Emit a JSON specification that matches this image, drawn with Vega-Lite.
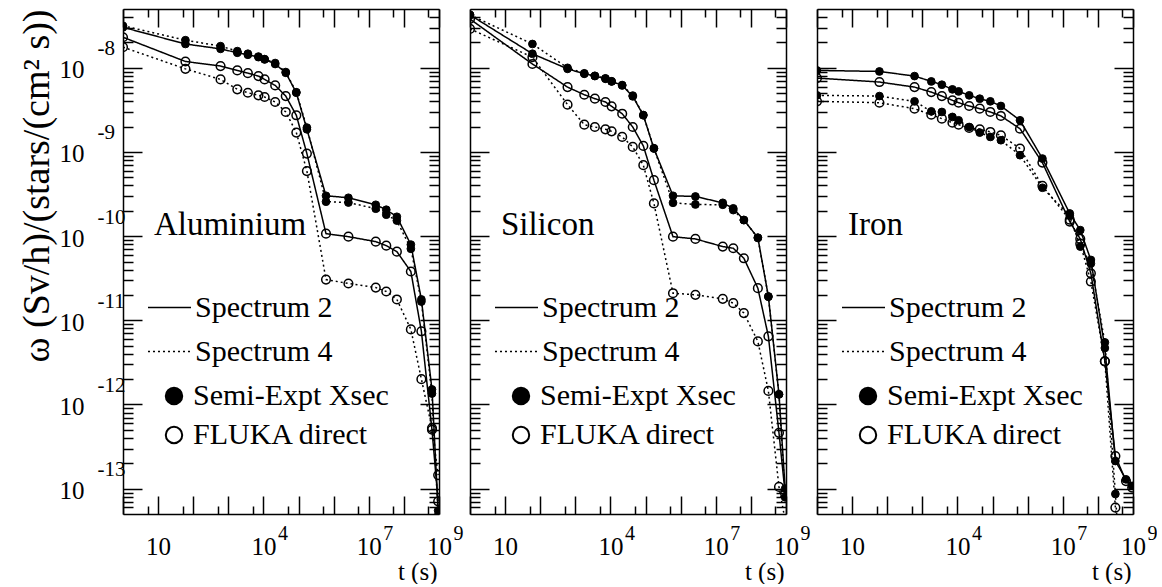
{
"$schema":"https://vega.github.io/schema/vega-lite/v6.json",
"background":"white",
"padding":{"left":17,"top":8,"right":0,"bottom":0},
"config":{"font":"Liberation Serif","view":{"stroke":null},
"axis":{"grid":false,"domainColor":"black","domainWidth":1.5,"tickColor":"black","tickWidth":1.5,"labelColor":"black","titleColor":"black","labelFont":"Liberation Serif","titleFont":"Liberation Serif","titleFontWeight":"normal","labelFlush":false,"labelOverlap":false},
"legend":{"labelFont":"Liberation Serif","labelColor":"black","labelFontSize":30,"padding":0,"title":null,"labelLimit":0,"symbolOpacity":1}},
"data":{"values":[
{"m":"Aluminium","s":"Spectrum 2","k":"Semi-Expt Xsec","t":1,"v":3.03e-8},
{"m":"Aluminium","s":"Spectrum 2","k":"Semi-Expt Xsec","t":60,"v":1.92e-8},
{"m":"Aluminium","s":"Spectrum 2","k":"Semi-Expt Xsec","t":600,"v":1.68e-8},
{"m":"Aluminium","s":"Spectrum 2","k":"Semi-Expt Xsec","t":1800,"v":1.51e-8},
{"m":"Aluminium","s":"Spectrum 2","k":"Semi-Expt Xsec","t":3600,"v":1.43e-8},
{"m":"Aluminium","s":"Spectrum 2","k":"Semi-Expt Xsec","t":7200,"v":1.34e-8},
{"m":"Aluminium","s":"Spectrum 2","k":"Semi-Expt Xsec","t":10800,"v":1.26e-8},
{"m":"Aluminium","s":"Spectrum 2","k":"Semi-Expt Xsec","t":21600,"v":1.11e-8},
{"m":"Aluminium","s":"Spectrum 2","k":"Semi-Expt Xsec","t":43200,"v":8.73e-9},
{"m":"Aluminium","s":"Spectrum 2","k":"Semi-Expt Xsec","t":86400,"v":5.06e-9},
{"m":"Aluminium","s":"Spectrum 2","k":"Semi-Expt Xsec","t":172800,"v":1.86e-9},
{"m":"Aluminium","s":"Spectrum 2","k":"Semi-Expt Xsec","t":604800,"v":3.02e-10},
{"m":"Aluminium","s":"Spectrum 2","k":"Semi-Expt Xsec","t":2630000,"v":2.86e-10},
{"m":"Aluminium","s":"Spectrum 2","k":"Semi-Expt Xsec","t":15800000,"v":2.36e-10},
{"m":"Aluminium","s":"Spectrum 2","k":"Semi-Expt Xsec","t":31500000,"v":2.06e-10},
{"m":"Aluminium","s":"Spectrum 2","k":"Semi-Expt Xsec","t":63100000,"v":1.70e-10},
{"m":"Aluminium","s":"Spectrum 2","k":"Semi-Expt Xsec","t":158000000,"v":7.94e-11},
{"m":"Aluminium","s":"Spectrum 2","k":"Semi-Expt Xsec","t":315000000,"v":1.77e-11},
{"m":"Aluminium","s":"Spectrum 2","k":"Semi-Expt Xsec","t":631000000,"v":1.51e-12},
{"m":"Aluminium","s":"Spectrum 2","k":"Semi-Expt Xsec","t":946000000,"v":5.5e-14},
{"m":"Aluminium","s":"Spectrum 4","k":"Semi-Expt Xsec","t":1,"v":3.16e-8},
{"m":"Aluminium","s":"Spectrum 4","k":"Semi-Expt Xsec","t":60,"v":2.13e-8},
{"m":"Aluminium","s":"Spectrum 4","k":"Semi-Expt Xsec","t":600,"v":1.81e-8},
{"m":"Aluminium","s":"Spectrum 4","k":"Semi-Expt Xsec","t":1800,"v":1.58e-8},
{"m":"Aluminium","s":"Spectrum 4","k":"Semi-Expt Xsec","t":3600,"v":1.47e-8},
{"m":"Aluminium","s":"Spectrum 4","k":"Semi-Expt Xsec","t":7200,"v":1.36e-8},
{"m":"Aluminium","s":"Spectrum 4","k":"Semi-Expt Xsec","t":10800,"v":1.27e-8},
{"m":"Aluminium","s":"Spectrum 4","k":"Semi-Expt Xsec","t":21600,"v":1.14e-8},
{"m":"Aluminium","s":"Spectrum 4","k":"Semi-Expt Xsec","t":43200,"v":8.91e-9},
{"m":"Aluminium","s":"Spectrum 4","k":"Semi-Expt Xsec","t":86400,"v":5.13e-9},
{"m":"Aluminium","s":"Spectrum 4","k":"Semi-Expt Xsec","t":172800,"v":1.95e-9},
{"m":"Aluminium","s":"Spectrum 4","k":"Semi-Expt Xsec","t":604800,"v":2.57e-10},
{"m":"Aluminium","s":"Spectrum 4","k":"Semi-Expt Xsec","t":2630000,"v":2.51e-10},
{"m":"Aluminium","s":"Spectrum 4","k":"Semi-Expt Xsec","t":15800000,"v":2.12e-10},
{"m":"Aluminium","s":"Spectrum 4","k":"Semi-Expt Xsec","t":31500000,"v":1.80e-10},
{"m":"Aluminium","s":"Spectrum 4","k":"Semi-Expt Xsec","t":63100000,"v":1.53e-10},
{"m":"Aluminium","s":"Spectrum 4","k":"Semi-Expt Xsec","t":158000000,"v":7.08e-11},
{"m":"Aluminium","s":"Spectrum 4","k":"Semi-Expt Xsec","t":315000000,"v":1.67e-11},
{"m":"Aluminium","s":"Spectrum 4","k":"Semi-Expt Xsec","t":631000000,"v":1.35e-12},
{"m":"Aluminium","s":"Spectrum 4","k":"Semi-Expt Xsec","t":946000000,"v":4.8e-14},
{"m":"Aluminium","s":"Spectrum 2","k":"FLUKA direct","t":1,"v":2.31e-8},
{"m":"Aluminium","s":"Spectrum 2","k":"FLUKA direct","t":60,"v":1.19e-8},
{"m":"Aluminium","s":"Spectrum 2","k":"FLUKA direct","t":600,"v":1.05e-8},
{"m":"Aluminium","s":"Spectrum 2","k":"FLUKA direct","t":1800,"v":9.31e-9},
{"m":"Aluminium","s":"Spectrum 2","k":"FLUKA direct","t":3600,"v":8.65e-9},
{"m":"Aluminium","s":"Spectrum 2","k":"FLUKA direct","t":7200,"v":7.98e-9},
{"m":"Aluminium","s":"Spectrum 2","k":"FLUKA direct","t":10800,"v":7.29e-9},
{"m":"Aluminium","s":"Spectrum 2","k":"FLUKA direct","t":21600,"v":6.18e-9},
{"m":"Aluminium","s":"Spectrum 2","k":"FLUKA direct","t":43200,"v":4.62e-9},
{"m":"Aluminium","s":"Spectrum 2","k":"FLUKA direct","t":86400,"v":2.73e-9},
{"m":"Aluminium","s":"Spectrum 2","k":"FLUKA direct","t":172800,"v":9.57e-10},
{"m":"Aluminium","s":"Spectrum 2","k":"FLUKA direct","t":604800,"v":1.07e-10},
{"m":"Aluminium","s":"Spectrum 2","k":"FLUKA direct","t":2630000,"v":9.86e-11},
{"m":"Aluminium","s":"Spectrum 2","k":"FLUKA direct","t":15800000,"v":8.61e-11},
{"m":"Aluminium","s":"Spectrum 2","k":"FLUKA direct","t":31500000,"v":7.71e-11},
{"m":"Aluminium","s":"Spectrum 2","k":"FLUKA direct","t":63100000,"v":6.55e-11},
{"m":"Aluminium","s":"Spectrum 2","k":"FLUKA direct","t":158000000,"v":3.80e-11},
{"m":"Aluminium","s":"Spectrum 2","k":"FLUKA direct","t":315000000,"v":7.41e-12},
{"m":"Aluminium","s":"Spectrum 2","k":"FLUKA direct","t":631000000,"v":5.01e-13},
{"m":"Aluminium","s":"Spectrum 2","k":"FLUKA direct","t":946000000,"v":7.08e-14},
{"m":"Aluminium","s":"Spectrum 4","k":"FLUKA direct","t":1,"v":1.76e-8},
{"m":"Aluminium","s":"Spectrum 4","k":"FLUKA direct","t":60,"v":9.72e-9},
{"m":"Aluminium","s":"Spectrum 4","k":"FLUKA direct","t":600,"v":7.29e-9},
{"m":"Aluminium","s":"Spectrum 4","k":"FLUKA direct","t":1800,"v":5.55e-9},
{"m":"Aluminium","s":"Spectrum 4","k":"FLUKA direct","t":3600,"v":5.06e-9},
{"m":"Aluminium","s":"Spectrum 4","k":"FLUKA direct","t":7200,"v":4.71e-9},
{"m":"Aluminium","s":"Spectrum 4","k":"FLUKA direct","t":10800,"v":4.50e-9},
{"m":"Aluminium","s":"Spectrum 4","k":"FLUKA direct","t":21600,"v":3.93e-9},
{"m":"Aluminium","s":"Spectrum 4","k":"FLUKA direct","t":43200,"v":2.99e-9},
{"m":"Aluminium","s":"Spectrum 4","k":"FLUKA direct","t":86400,"v":1.70e-9},
{"m":"Aluminium","s":"Spectrum 4","k":"FLUKA direct","t":172800,"v":5.93e-10},
{"m":"Aluminium","s":"Spectrum 4","k":"FLUKA direct","t":604800,"v":3.05e-11},
{"m":"Aluminium","s":"Spectrum 4","k":"FLUKA direct","t":2630000,"v":2.74e-11},
{"m":"Aluminium","s":"Spectrum 4","k":"FLUKA direct","t":15800000,"v":2.45e-11},
{"m":"Aluminium","s":"Spectrum 4","k":"FLUKA direct","t":31500000,"v":2.20e-11},
{"m":"Aluminium","s":"Spectrum 4","k":"FLUKA direct","t":63100000,"v":1.77e-11},
{"m":"Aluminium","s":"Spectrum 4","k":"FLUKA direct","t":158000000,"v":7.80e-12},
{"m":"Aluminium","s":"Spectrum 4","k":"FLUKA direct","t":315000000,"v":2.00e-12},
{"m":"Aluminium","s":"Spectrum 4","k":"FLUKA direct","t":631000000,"v":5.25e-13},
{"m":"Aluminium","s":"Spectrum 4","k":"FLUKA direct","t":946000000,"v":1.45e-13},
{"m":"Silicon","s":"Spectrum 2","k":"Semi-Expt Xsec","t":1,"v":4.25e-8},
{"m":"Silicon","s":"Spectrum 2","k":"Semi-Expt Xsec","t":60,"v":1.47e-8},
{"m":"Silicon","s":"Spectrum 2","k":"Semi-Expt Xsec","t":600,"v":9.72e-9},
{"m":"Silicon","s":"Spectrum 2","k":"Semi-Expt Xsec","t":1800,"v":8.49e-9},
{"m":"Silicon","s":"Spectrum 2","k":"Semi-Expt Xsec","t":3600,"v":7.98e-9},
{"m":"Silicon","s":"Spectrum 2","k":"Semi-Expt Xsec","t":7200,"v":7.41e-9},
{"m":"Silicon","s":"Spectrum 2","k":"Semi-Expt Xsec","t":10800,"v":6.90e-9},
{"m":"Silicon","s":"Spectrum 2","k":"Semi-Expt Xsec","t":21600,"v":6.18e-9},
{"m":"Silicon","s":"Spectrum 2","k":"Semi-Expt Xsec","t":43200,"v":4.58e-9},
{"m":"Silicon","s":"Spectrum 2","k":"Semi-Expt Xsec","t":86400,"v":2.73e-9},
{"m":"Silicon","s":"Spectrum 2","k":"Semi-Expt Xsec","t":172800,"v":1.10e-9},
{"m":"Silicon","s":"Spectrum 2","k":"Semi-Expt Xsec","t":604800,"v":3.02e-10},
{"m":"Silicon","s":"Spectrum 2","k":"Semi-Expt Xsec","t":2630000,"v":2.96e-10},
{"m":"Silicon","s":"Spectrum 2","k":"Semi-Expt Xsec","t":15800000,"v":2.49e-10},
{"m":"Silicon","s":"Spectrum 2","k":"Semi-Expt Xsec","t":31500000,"v":2.14e-10},
{"m":"Silicon","s":"Spectrum 2","k":"Semi-Expt Xsec","t":63100000,"v":1.56e-10},
{"m":"Silicon","s":"Spectrum 2","k":"Semi-Expt Xsec","t":158000000,"v":9.59e-11},
{"m":"Silicon","s":"Spectrum 2","k":"Semi-Expt Xsec","t":315000000,"v":1.92e-11},
{"m":"Silicon","s":"Spectrum 2","k":"Semi-Expt Xsec","t":631000000,"v":1.32e-12},
{"m":"Silicon","s":"Spectrum 2","k":"Semi-Expt Xsec","t":946000000,"v":1.0e-13},
{"m":"Silicon","s":"Spectrum 4","k":"Semi-Expt Xsec","t":1,"v":4.25e-8},
{"m":"Silicon","s":"Spectrum 4","k":"Semi-Expt Xsec","t":60,"v":1.92e-8},
{"m":"Silicon","s":"Spectrum 4","k":"Semi-Expt Xsec","t":600,"v":1.0e-8},
{"m":"Silicon","s":"Spectrum 4","k":"Semi-Expt Xsec","t":1800,"v":8.61e-9},
{"m":"Silicon","s":"Spectrum 4","k":"Semi-Expt Xsec","t":3600,"v":8.04e-9},
{"m":"Silicon","s":"Spectrum 4","k":"Semi-Expt Xsec","t":7200,"v":7.5e-9},
{"m":"Silicon","s":"Spectrum 4","k":"Semi-Expt Xsec","t":10800,"v":6.92e-9},
{"m":"Silicon","s":"Spectrum 4","k":"Semi-Expt Xsec","t":21600,"v":6.24e-9},
{"m":"Silicon","s":"Spectrum 4","k":"Semi-Expt Xsec","t":43200,"v":4.68e-9},
{"m":"Silicon","s":"Spectrum 4","k":"Semi-Expt Xsec","t":86400,"v":2.75e-9},
{"m":"Silicon","s":"Spectrum 4","k":"Semi-Expt Xsec","t":172800,"v":1.11e-9},
{"m":"Silicon","s":"Spectrum 4","k":"Semi-Expt Xsec","t":604800,"v":2.49e-10},
{"m":"Silicon","s":"Spectrum 4","k":"Semi-Expt Xsec","t":2630000,"v":2.38e-10},
{"m":"Silicon","s":"Spectrum 4","k":"Semi-Expt Xsec","t":15800000,"v":2.36e-10},
{"m":"Silicon","s":"Spectrum 4","k":"Semi-Expt Xsec","t":31500000,"v":2.04e-10},
{"m":"Silicon","s":"Spectrum 4","k":"Semi-Expt Xsec","t":63100000,"v":1.55e-10},
{"m":"Silicon","s":"Spectrum 4","k":"Semi-Expt Xsec","t":158000000,"v":9.55e-11},
{"m":"Silicon","s":"Spectrum 4","k":"Semi-Expt Xsec","t":315000000,"v":1.91e-11},
{"m":"Silicon","s":"Spectrum 4","k":"Semi-Expt Xsec","t":631000000,"v":1.32e-12},
{"m":"Silicon","s":"Spectrum 4","k":"Semi-Expt Xsec","t":946000000,"v":7.9e-14},
{"m":"Silicon","s":"Spectrum 2","k":"FLUKA direct","t":1,"v":3.80e-8},
{"m":"Silicon","s":"Spectrum 2","k":"FLUKA direct","t":60,"v":1.11e-8},
{"m":"Silicon","s":"Spectrum 2","k":"FLUKA direct","t":600,"v":5.90e-9},
{"m":"Silicon","s":"Spectrum 2","k":"FLUKA direct","t":1800,"v":4.79e-9},
{"m":"Silicon","s":"Spectrum 2","k":"FLUKA direct","t":3600,"v":4.30e-9},
{"m":"Silicon","s":"Spectrum 2","k":"FLUKA direct","t":7200,"v":3.93e-9},
{"m":"Silicon","s":"Spectrum 2","k":"FLUKA direct","t":10800,"v":3.49e-9},
{"m":"Silicon","s":"Spectrum 2","k":"FLUKA direct","t":21600,"v":2.85e-9},
{"m":"Silicon","s":"Spectrum 2","k":"FLUKA direct","t":43200,"v":1.98e-9},
{"m":"Silicon","s":"Spectrum 2","k":"FLUKA direct","t":86400,"v":1.18e-9},
{"m":"Silicon","s":"Spectrum 2","k":"FLUKA direct","t":172800,"v":4.63e-10},
{"m":"Silicon","s":"Spectrum 2","k":"FLUKA direct","t":604800,"v":9.86e-11},
{"m":"Silicon","s":"Spectrum 2","k":"FLUKA direct","t":2630000,"v":9.27e-11},
{"m":"Silicon","s":"Spectrum 2","k":"FLUKA direct","t":15800000,"v":7.52e-11},
{"m":"Silicon","s":"Spectrum 2","k":"FLUKA direct","t":31500000,"v":7.18e-11},
{"m":"Silicon","s":"Spectrum 2","k":"FLUKA direct","t":63100000,"v":5.46e-11},
{"m":"Silicon","s":"Spectrum 2","k":"FLUKA direct","t":158000000,"v":2.41e-11},
{"m":"Silicon","s":"Spectrum 2","k":"FLUKA direct","t":315000000,"v":6.46e-12},
{"m":"Silicon","s":"Spectrum 2","k":"FLUKA direct","t":631000000,"v":4.61e-13},
{"m":"Silicon","s":"Spectrum 2","k":"FLUKA direct","t":946000000,"v":8.7e-14},
{"m":"Silicon","s":"Spectrum 4","k":"FLUKA direct","t":1,"v":2.90e-8},
{"m":"Silicon","s":"Spectrum 4","k":"FLUKA direct","t":60,"v":1.34e-8},
{"m":"Silicon","s":"Spectrum 4","k":"FLUKA direct","t":600,"v":3.65e-9},
{"m":"Silicon","s":"Spectrum 4","k":"FLUKA direct","t":1800,"v":2.11e-9},
{"m":"Silicon","s":"Spectrum 4","k":"FLUKA direct","t":3600,"v":1.98e-9},
{"m":"Silicon","s":"Spectrum 4","k":"FLUKA direct","t":7200,"v":1.86e-9},
{"m":"Silicon","s":"Spectrum 4","k":"FLUKA direct","t":10800,"v":1.76e-9},
{"m":"Silicon","s":"Spectrum 4","k":"FLUKA direct","t":21600,"v":1.51e-9},
{"m":"Silicon","s":"Spectrum 4","k":"FLUKA direct","t":43200,"v":1.15e-9},
{"m":"Silicon","s":"Spectrum 4","k":"FLUKA direct","t":86400,"v":6.98e-10},
{"m":"Silicon","s":"Spectrum 4","k":"FLUKA direct","t":172800,"v":2.45e-10},
{"m":"Silicon","s":"Spectrum 4","k":"FLUKA direct","t":604800,"v":2.10e-11},
{"m":"Silicon","s":"Spectrum 4","k":"FLUKA direct","t":2630000,"v":2.01e-11},
{"m":"Silicon","s":"Spectrum 4","k":"FLUKA direct","t":15800000,"v":1.80e-11},
{"m":"Silicon","s":"Spectrum 4","k":"FLUKA direct","t":31500000,"v":1.60e-11},
{"m":"Silicon","s":"Spectrum 4","k":"FLUKA direct","t":63100000,"v":1.22e-11},
{"m":"Silicon","s":"Spectrum 4","k":"FLUKA direct","t":158000000,"v":5.62e-12},
{"m":"Silicon","s":"Spectrum 4","k":"FLUKA direct","t":315000000,"v":1.45e-12},
{"m":"Silicon","s":"Spectrum 4","k":"FLUKA direct","t":631000000,"v":1.05e-13},
{"m":"Silicon","s":"Spectrum 4","k":"FLUKA direct","t":946000000,"v":4.2e-14},
{"m":"Iron","s":"Spectrum 2","k":"Semi-Expt Xsec","t":1,"v":9.31e-9},
{"m":"Iron","s":"Spectrum 2","k":"Semi-Expt Xsec","t":60,"v":9.06e-9},
{"m":"Iron","s":"Spectrum 2","k":"Semi-Expt Xsec","t":600,"v":7.98e-9},
{"m":"Iron","s":"Spectrum 2","k":"Semi-Expt Xsec","t":1800,"v":6.90e-9},
{"m":"Iron","s":"Spectrum 2","k":"Semi-Expt Xsec","t":3600,"v":6.30e-9},
{"m":"Iron","s":"Spectrum 2","k":"Semi-Expt Xsec","t":7200,"v":5.55e-9},
{"m":"Iron","s":"Spectrum 2","k":"Semi-Expt Xsec","t":10800,"v":5.25e-9},
{"m":"Iron","s":"Spectrum 2","k":"Semi-Expt Xsec","t":21600,"v":4.71e-9},
{"m":"Iron","s":"Spectrum 2","k":"Semi-Expt Xsec","t":43200,"v":4.30e-9},
{"m":"Iron","s":"Spectrum 2","k":"Semi-Expt Xsec","t":86400,"v":4.0e-9},
{"m":"Iron","s":"Spectrum 2","k":"Semi-Expt Xsec","t":172800,"v":3.52e-9},
{"m":"Iron","s":"Spectrum 2","k":"Semi-Expt Xsec","t":604800,"v":2.38e-9},
{"m":"Iron","s":"Spectrum 2","k":"Semi-Expt Xsec","t":2630000,"v":8.36e-10},
{"m":"Iron","s":"Spectrum 2","k":"Semi-Expt Xsec","t":15800000,"v":1.86e-10},
{"m":"Iron","s":"Spectrum 2","k":"Semi-Expt Xsec","t":31500000,"v":1.18e-10},
{"m":"Iron","s":"Spectrum 2","k":"Semi-Expt Xsec","t":63100000,"v":5.22e-11},
{"m":"Iron","s":"Spectrum 2","k":"Semi-Expt Xsec","t":158000000,"v":4.69e-12},
{"m":"Iron","s":"Spectrum 2","k":"Semi-Expt Xsec","t":315000000,"v":2.13e-13},
{"m":"Iron","s":"Spectrum 2","k":"Semi-Expt Xsec","t":631000000,"v":1.29e-13},
{"m":"Iron","s":"Spectrum 2","k":"Semi-Expt Xsec","t":946000000,"v":1.08e-13},
{"m":"Iron","s":"Spectrum 2","k":"FLUKA direct","t":1,"v":7.55e-9},
{"m":"Iron","s":"Spectrum 2","k":"FLUKA direct","t":60,"v":6.78e-9},
{"m":"Iron","s":"Spectrum 2","k":"FLUKA direct","t":600,"v":5.90e-9},
{"m":"Iron","s":"Spectrum 2","k":"FLUKA direct","t":1800,"v":5.15e-9},
{"m":"Iron","s":"Spectrum 2","k":"FLUKA direct","t":3600,"v":4.62e-9},
{"m":"Iron","s":"Spectrum 2","k":"FLUKA direct","t":7200,"v":4.11e-9},
{"m":"Iron","s":"Spectrum 2","k":"FLUKA direct","t":10800,"v":3.85e-9},
{"m":"Iron","s":"Spectrum 2","k":"FLUKA direct","t":21600,"v":3.52e-9},
{"m":"Iron","s":"Spectrum 2","k":"FLUKA direct","t":43200,"v":3.27e-9},
{"m":"Iron","s":"Spectrum 2","k":"FLUKA direct","t":86400,"v":2.99e-9},
{"m":"Iron","s":"Spectrum 2","k":"FLUKA direct","t":172800,"v":2.68e-9},
{"m":"Iron","s":"Spectrum 2","k":"FLUKA direct","t":604800,"v":1.89e-9},
{"m":"Iron","s":"Spectrum 2","k":"FLUKA direct","t":2630000,"v":7.48e-10},
{"m":"Iron","s":"Spectrum 2","k":"FLUKA direct","t":15800000,"v":1.49e-10},
{"m":"Iron","s":"Spectrum 2","k":"FLUKA direct","t":31500000,"v":9.27e-11},
{"m":"Iron","s":"Spectrum 2","k":"FLUKA direct","t":63100000,"v":3.62e-11},
{"m":"Iron","s":"Spectrum 2","k":"FLUKA direct","t":158000000,"v":3.26e-12},
{"m":"Iron","s":"Spectrum 2","k":"FLUKA direct","t":315000000,"v":2.44e-13},
{"m":"Iron","s":"Spectrum 2","k":"FLUKA direct","t":631000000,"v":1.23e-13},
{"m":"Iron","s":"Spectrum 2","k":"FLUKA direct","t":946000000,"v":1.03e-13},
{"m":"Iron","s":"Spectrum 4","k":"Semi-Expt Xsec","t":1,"v":4.71e-9},
{"m":"Iron","s":"Spectrum 4","k":"Semi-Expt Xsec","t":60,"v":4.62e-9},
{"m":"Iron","s":"Spectrum 4","k":"Semi-Expt Xsec","t":600,"v":4.0e-9},
{"m":"Iron","s":"Spectrum 4","k":"Semi-Expt Xsec","t":1800,"v":3.04e-9},
{"m":"Iron","s":"Spectrum 4","k":"Semi-Expt Xsec","t":3600,"v":2.99e-9},
{"m":"Iron","s":"Spectrum 4","k":"Semi-Expt Xsec","t":7200,"v":2.61e-9},
{"m":"Iron","s":"Spectrum 4","k":"Semi-Expt Xsec","t":10800,"v":2.38e-9},
{"m":"Iron","s":"Spectrum 4","k":"Semi-Expt Xsec","t":21600,"v":1.98e-9},
{"m":"Iron","s":"Spectrum 4","k":"Semi-Expt Xsec","t":43200,"v":1.70e-9},
{"m":"Iron","s":"Spectrum 4","k":"Semi-Expt Xsec","t":86400,"v":1.51e-9},
{"m":"Iron","s":"Spectrum 4","k":"Semi-Expt Xsec","t":172800,"v":1.38e-9},
{"m":"Iron","s":"Spectrum 4","k":"Semi-Expt Xsec","t":604800,"v":9.16e-10},
{"m":"Iron","s":"Spectrum 4","k":"Semi-Expt Xsec","t":2630000,"v":3.76e-10},
{"m":"Iron","s":"Spectrum 4","k":"Semi-Expt Xsec","t":15800000,"v":1.75e-10},
{"m":"Iron","s":"Spectrum 4","k":"Semi-Expt Xsec","t":31500000,"v":7.52e-11},
{"m":"Iron","s":"Spectrum 4","k":"Semi-Expt Xsec","t":63100000,"v":4.72e-11},
{"m":"Iron","s":"Spectrum 4","k":"Semi-Expt Xsec","t":158000000,"v":5.47e-12},
{"m":"Iron","s":"Spectrum 4","k":"Semi-Expt Xsec","t":315000000,"v":8.65e-14},
{"m":"Iron","s":"Spectrum 4","k":"Semi-Expt Xsec","t":631000000,"v":1e-15},
{"m":"Iron","s":"Spectrum 4","k":"Semi-Expt Xsec","t":946000000,"v":1e-16},
{"m":"Iron","s":"Spectrum 4","k":"FLUKA direct","t":1,"v":4.0e-9},
{"m":"Iron","s":"Spectrum 4","k":"FLUKA direct","t":60,"v":3.85e-9},
{"m":"Iron","s":"Spectrum 4","k":"FLUKA direct","t":600,"v":3.27e-9},
{"m":"Iron","s":"Spectrum 4","k":"FLUKA direct","t":1800,"v":2.77e-9},
{"m":"Iron","s":"Spectrum 4","k":"FLUKA direct","t":3600,"v":2.49e-9},
{"m":"Iron","s":"Spectrum 4","k":"FLUKA direct","t":7200,"v":2.23e-9},
{"m":"Iron","s":"Spectrum 4","k":"FLUKA direct","t":10800,"v":2.11e-9},
{"m":"Iron","s":"Spectrum 4","k":"FLUKA direct","t":21600,"v":1.93e-9},
{"m":"Iron","s":"Spectrum 4","k":"FLUKA direct","t":43200,"v":1.86e-9},
{"m":"Iron","s":"Spectrum 4","k":"FLUKA direct","t":86400,"v":1.73e-9},
{"m":"Iron","s":"Spectrum 4","k":"FLUKA direct","t":172800,"v":1.58e-9},
{"m":"Iron","s":"Spectrum 4","k":"FLUKA direct","t":604800,"v":1.10e-9},
{"m":"Iron","s":"Spectrum 4","k":"FLUKA direct","t":2630000,"v":3.96e-10},
{"m":"Iron","s":"Spectrum 4","k":"FLUKA direct","t":15800000,"v":1.57e-10},
{"m":"Iron","s":"Spectrum 4","k":"FLUKA direct","t":31500000,"v":8.15e-11},
{"m":"Iron","s":"Spectrum 4","k":"FLUKA direct","t":63100000,"v":2.89e-11},
{"m":"Iron","s":"Spectrum 4","k":"FLUKA direct","t":158000000,"v":3.26e-12},
{"m":"Iron","s":"Spectrum 4","k":"FLUKA direct","t":315000000,"v":5.96e-14},
{"m":"Iron","s":"Spectrum 4","k":"FLUKA direct","t":631000000,"v":1e-15},
{"m":"Iron","s":"Spectrum 4","k":"FLUKA direct","t":946000000,"v":1e-16}
]},
"bounds":"flush",
"spacing":31,
"resolve":{"scale":{"strokeDash":"independent","fill":"independent"},"legend":{"strokeDash":"independent","fill":"independent"}},
"hconcat":[
{"width":316,"height":505,"transform":[{"filter":"datum.m === 'Aluminium'"}],
"layer":[
{"transform":[{"filter":"datum.s === 'Spectrum 2'"}],
"mark":{"type":"line","clip":true,"color":"black","strokeWidth":1.5},
"encoding":{
"x":{"field":"t","type":"quantitative","scale":{"type":"log","domain":[1,1000000000],"nice":false},"axis":{"orient":"bottom","values":[1,10,100,1000,10000,100000,1000000,10000000,100000000,1000000000],"tickSize":-18,"labelExpr":"(datum.value==10||datum.value==10000||datum.value==10000000||datum.value==1000000000)?'10':''","labelFontSize":25,"labelPadding":58,"labelBaseline":"alphabetic","labelAlign":"center","title":"t (s)","titleFontSize":25,"titleX":314,"titleY":65,"titleAlign":"right","titleBaseline":"alphabetic"}},
"y":{"field":"v","type":"quantitative","scale":{"type":"log","domain":[5e-14,5e-8],"nice":false},"axis":{"orient":"left","values":[1e-13,1e-12,1e-11,1e-10,1e-9,1e-8],"tickSize":-19,"labelExpr":"'10'","labelFontSize":25,"labelPadding":58,"labelAlign":"right","labelBaseline":"middle","labelOffset":2,"title":"ω (Sv/h)/(stars/(cm² s))","titleFontSize":38,"titleX":-75,"titleY":0,"titleAlign":"right","titleBaseline":"alphabetic","titleAngle":-90}},
"strokeDash":{"field":"s","type":"nominal","scale":{"domain":["Spectrum 2","Spectrum 4"],"range":[[1,0],[2,3]]},"legend":{"orient":"none","legendX":24,"legendY":276,"symbolType":"stroke","symbolSize":1850,"symbolStrokeWidth":1.5,"symbolStrokeColor":"black","labelOffset":3,"rowPadding":6}},
"detail":{"field":"k"}}},
{"transform":[{"filter":"datum.s === 'Spectrum 4'"}],
"mark":{"type":"line","clip":true,"color":"black","strokeWidth":1.5},
"encoding":{
"x":{"field":"t","type":"quantitative","axis":{"orient":"bottom","values":[5,50,500,5000,50000,500000,5000000,50000000,500000000],"tickSize":-8,"labels":false,"domain":false,"title":null}},
"y":{"field":"v","type":"quantitative","axis":{"orient":"left","values":[6e-14,7e-14,8e-14,9e-14,2e-13,3e-13,4e-13,5e-13,6e-13,7e-13,8e-13,9e-13,2e-12,3e-12,4e-12,5e-12,6e-12,7e-12,8e-12,9e-12,2e-11,3e-11,4e-11,5e-11,6e-11,7e-11,8e-11,9e-11,2e-10,3e-10,4e-10,5e-10,6e-10,7e-10,8e-10,9e-10,2e-9,3e-9,4e-9,5e-9,6e-9,7e-9,8e-9,9e-9,2e-8,3e-8,4e-8],"tickSize":-10,"labels":false,"domain":false,"title":null}},
"strokeDash":{"field":"s","type":"nominal"},
"detail":{"field":"k"}}},
{"transform":[{"filter":"datum.k === 'Semi-Expt Xsec'"}],
"mark":{"type":"point","shape":"circle","filled":true,"clip":true,"opacity":1,"stroke":"black","strokeWidth":1,"size":60},
"encoding":{
"x":{"field":"t","type":"quantitative","axis":{"orient":"top","values":[1,10,100,1000,10000,100000,1000000,10000000,100000000,1000000000],"tickSize":-18,"labels":false,"title":null}},
"y":{"field":"v","type":"quantitative","axis":{"orient":"right","values":[1e-13,1e-12,1e-11,1e-10,1e-9,1e-8],"tickSize":-19,"labels":false,"title":null}},
"fill":{"field":"k","type":"nominal","scale":{"domain":["Semi-Expt Xsec","FLUKA direct"],"range":["black","transparent"]},"legend":{"orient":"none","legendX":36,"legendY":372,"symbolType":"circle","symbolSize":270,"symbolStrokeWidth":2,"symbolStrokeColor":"black","labelOffset":4,"rowPadding":9}}}},
{"transform":[{"filter":"datum.k === 'FLUKA direct'"}],
"mark":{"type":"point","shape":"circle","filled":true,"clip":true,"opacity":1,"stroke":"black","strokeWidth":1.5,"size":75},
"encoding":{
"x":{"field":"t","type":"quantitative","axis":{"orient":"top","values":[5,50,500,5000,50000,500000,5000000,50000000,500000000],"tickSize":-8,"labels":false,"domain":false,"title":null}},
"y":{"field":"v","type":"quantitative","axis":{"orient":"right","values":[6e-14,7e-14,8e-14,9e-14,2e-13,3e-13,4e-13,5e-13,6e-13,7e-13,8e-13,9e-13,2e-12,3e-12,4e-12,5e-12,6e-12,7e-12,8e-12,9e-12,2e-11,3e-11,4e-11,5e-11,6e-11,7e-11,8e-11,9e-11,2e-10,3e-10,4e-10,5e-10,6e-10,7e-10,8e-10,9e-10,2e-9,3e-9,4e-9,5e-9,6e-9,7e-9,8e-9,9e-9,2e-8,3e-8,4e-8],"tickSize":-10,"labels":false,"domain":false,"title":null}},
"fill":{"field":"k","type":"nominal"}}},
{"transform":[{"filter":"datum.t === 1 && datum.s === 'Spectrum 2' && datum.k === 'Semi-Expt Xsec'"}],
"mark":{"type":"text","align":"left","baseline":"alphabetic","fontSize":33,"font":"Liberation Serif","color":"black"},
"encoding":{
"x":{"datum":7.6,"type":"quantitative","axis":{"orient":"bottom","values":[10000,10000000,1000000000],"ticks":false,"domain":false,"labelExpr":"datum.value==10000?'4':(datum.value==10000000?'7':'9')","labelFontSize":20,"labelAlign":"left","labelBaseline":"alphabetic","labelPadding":25,"labelOffset":14,"title":null}},
"y":{"datum":1.02e-10,"type":"quantitative","axis":{"orient":"left","values":[1e-13,1e-12,1e-11,1e-10,1e-9,1e-8],"ticks":false,"domain":false,"labelExpr":"'-' + round(-log(datum.value)/LN10)","labelFontSize":21,"labelAlign":"left","labelBaseline":"middle","labelPadding":26,"labelOffset":-19,"title":null}},
"text":{"field":"m"}}}
],
"resolve":{"axis":{"x":"independent","y":"independent"}}},
{"width":316,"height":505,"transform":[{"filter":"datum.m === 'Silicon'"}],
"layer":[
{"transform":[{"filter":"datum.s === 'Spectrum 2'"}],
"mark":{"type":"line","clip":true,"color":"black","strokeWidth":1.5},
"encoding":{
"x":{"field":"t","type":"quantitative","scale":{"type":"log","domain":[1,1000000000],"nice":false},"axis":{"orient":"bottom","values":[1,10,100,1000,10000,100000,1000000,10000000,100000000,1000000000],"tickSize":-18,"labelExpr":"(datum.value==10||datum.value==10000||datum.value==10000000||datum.value==1000000000)?'10':''","labelFontSize":25,"labelPadding":58,"labelBaseline":"alphabetic","labelAlign":"center","title":"t (s)","titleFontSize":25,"titleX":314,"titleY":65,"titleAlign":"right","titleBaseline":"alphabetic"}},
"y":{"field":"v","type":"quantitative","scale":{"type":"log","domain":[5e-14,5e-8],"nice":false},"axis":{"orient":"left","values":[1e-13,1e-12,1e-11,1e-10,1e-9,1e-8],"tickSize":-19,"labels":false,"title":null}},
"strokeDash":{"field":"s","type":"nominal","scale":{"domain":["Spectrum 2","Spectrum 4"],"range":[[1,0],[2,3]]},"legend":{"orient":"none","legendX":24,"legendY":276,"symbolType":"stroke","symbolSize":1850,"symbolStrokeWidth":1.5,"symbolStrokeColor":"black","labelOffset":3,"rowPadding":6}},
"detail":{"field":"k"}}},
{"transform":[{"filter":"datum.s === 'Spectrum 4'"}],
"mark":{"type":"line","clip":true,"color":"black","strokeWidth":1.5},
"encoding":{
"x":{"field":"t","type":"quantitative","axis":{"orient":"bottom","values":[5,50,500,5000,50000,500000,5000000,50000000,500000000],"tickSize":-8,"labels":false,"domain":false,"title":null}},
"y":{"field":"v","type":"quantitative","axis":{"orient":"left","values":[6e-14,7e-14,8e-14,9e-14,2e-13,3e-13,4e-13,5e-13,6e-13,7e-13,8e-13,9e-13,2e-12,3e-12,4e-12,5e-12,6e-12,7e-12,8e-12,9e-12,2e-11,3e-11,4e-11,5e-11,6e-11,7e-11,8e-11,9e-11,2e-10,3e-10,4e-10,5e-10,6e-10,7e-10,8e-10,9e-10,2e-9,3e-9,4e-9,5e-9,6e-9,7e-9,8e-9,9e-9,2e-8,3e-8,4e-8],"tickSize":-10,"labels":false,"domain":false,"title":null}},
"strokeDash":{"field":"s","type":"nominal"},
"detail":{"field":"k"}}},
{"transform":[{"filter":"datum.k === 'Semi-Expt Xsec'"}],
"mark":{"type":"point","shape":"circle","filled":true,"clip":true,"opacity":1,"stroke":"black","strokeWidth":1,"size":60},
"encoding":{
"x":{"field":"t","type":"quantitative","axis":{"orient":"top","values":[1,10,100,1000,10000,100000,1000000,10000000,100000000,1000000000],"tickSize":-18,"labels":false,"title":null}},
"y":{"field":"v","type":"quantitative","axis":{"orient":"right","values":[1e-13,1e-12,1e-11,1e-10,1e-9,1e-8],"tickSize":-19,"labels":false,"title":null}},
"fill":{"field":"k","type":"nominal","scale":{"domain":["Semi-Expt Xsec","FLUKA direct"],"range":["black","transparent"]},"legend":{"orient":"none","legendX":36,"legendY":372,"symbolType":"circle","symbolSize":270,"symbolStrokeWidth":2,"symbolStrokeColor":"black","labelOffset":4,"rowPadding":9}}}},
{"transform":[{"filter":"datum.k === 'FLUKA direct'"}],
"mark":{"type":"point","shape":"circle","filled":true,"clip":true,"opacity":1,"stroke":"black","strokeWidth":1.5,"size":75},
"encoding":{
"x":{"field":"t","type":"quantitative","axis":{"orient":"top","values":[5,50,500,5000,50000,500000,5000000,50000000,500000000],"tickSize":-8,"labels":false,"domain":false,"title":null}},
"y":{"field":"v","type":"quantitative","axis":{"orient":"right","values":[6e-14,7e-14,8e-14,9e-14,2e-13,3e-13,4e-13,5e-13,6e-13,7e-13,8e-13,9e-13,2e-12,3e-12,4e-12,5e-12,6e-12,7e-12,8e-12,9e-12,2e-11,3e-11,4e-11,5e-11,6e-11,7e-11,8e-11,9e-11,2e-10,3e-10,4e-10,5e-10,6e-10,7e-10,8e-10,9e-10,2e-9,3e-9,4e-9,5e-9,6e-9,7e-9,8e-9,9e-9,2e-8,3e-8,4e-8],"tickSize":-10,"labels":false,"domain":false,"title":null}},
"fill":{"field":"k","type":"nominal"}}},
{"transform":[{"filter":"datum.t === 1 && datum.s === 'Spectrum 2' && datum.k === 'Semi-Expt Xsec'"}],
"mark":{"type":"text","align":"left","baseline":"alphabetic","fontSize":33,"font":"Liberation Serif","color":"black"},
"encoding":{
"x":{"datum":7.6,"type":"quantitative","axis":{"orient":"bottom","values":[10000,10000000,1000000000],"ticks":false,"domain":false,"labelExpr":"datum.value==10000?'4':(datum.value==10000000?'7':'9')","labelFontSize":20,"labelAlign":"left","labelBaseline":"alphabetic","labelPadding":25,"labelOffset":14,"title":null}},
"y":{"datum":1.02e-10,"type":"quantitative","axis":null},
"text":{"field":"m"}}}
],
"resolve":{"axis":{"x":"independent","y":"independent"}}},
{"width":316,"height":505,"transform":[{"filter":"datum.m === 'Iron'"}],
"layer":[
{"transform":[{"filter":"datum.s === 'Spectrum 2'"}],
"mark":{"type":"line","clip":true,"color":"black","strokeWidth":1.5},
"encoding":{
"x":{"field":"t","type":"quantitative","scale":{"type":"log","domain":[1,1000000000],"nice":false},"axis":{"orient":"bottom","values":[1,10,100,1000,10000,100000,1000000,10000000,100000000,1000000000],"tickSize":-18,"labelExpr":"(datum.value==10||datum.value==10000||datum.value==10000000||datum.value==1000000000)?'10':''","labelFontSize":25,"labelPadding":58,"labelBaseline":"alphabetic","labelAlign":"center","title":"t (s)","titleFontSize":25,"titleX":314,"titleY":65,"titleAlign":"right","titleBaseline":"alphabetic"}},
"y":{"field":"v","type":"quantitative","scale":{"type":"log","domain":[5e-14,5e-8],"nice":false},"axis":{"orient":"left","values":[1e-13,1e-12,1e-11,1e-10,1e-9,1e-8],"tickSize":-19,"labels":false,"title":null}},
"strokeDash":{"field":"s","type":"nominal","scale":{"domain":["Spectrum 2","Spectrum 4"],"range":[[1,0],[2,3]]},"legend":{"orient":"none","legendX":24,"legendY":276,"symbolType":"stroke","symbolSize":1850,"symbolStrokeWidth":1.5,"symbolStrokeColor":"black","labelOffset":3,"rowPadding":6}},
"detail":{"field":"k"}}},
{"transform":[{"filter":"datum.s === 'Spectrum 4'"}],
"mark":{"type":"line","clip":true,"color":"black","strokeWidth":1.5},
"encoding":{
"x":{"field":"t","type":"quantitative","axis":{"orient":"bottom","values":[5,50,500,5000,50000,500000,5000000,50000000,500000000],"tickSize":-8,"labels":false,"domain":false,"title":null}},
"y":{"field":"v","type":"quantitative","axis":{"orient":"left","values":[6e-14,7e-14,8e-14,9e-14,2e-13,3e-13,4e-13,5e-13,6e-13,7e-13,8e-13,9e-13,2e-12,3e-12,4e-12,5e-12,6e-12,7e-12,8e-12,9e-12,2e-11,3e-11,4e-11,5e-11,6e-11,7e-11,8e-11,9e-11,2e-10,3e-10,4e-10,5e-10,6e-10,7e-10,8e-10,9e-10,2e-9,3e-9,4e-9,5e-9,6e-9,7e-9,8e-9,9e-9,2e-8,3e-8,4e-8],"tickSize":-10,"labels":false,"domain":false,"title":null}},
"strokeDash":{"field":"s","type":"nominal"},
"detail":{"field":"k"}}},
{"transform":[{"filter":"datum.k === 'Semi-Expt Xsec'"}],
"mark":{"type":"point","shape":"circle","filled":true,"clip":true,"opacity":1,"stroke":"black","strokeWidth":1,"size":60},
"encoding":{
"x":{"field":"t","type":"quantitative","axis":{"orient":"top","values":[1,10,100,1000,10000,100000,1000000,10000000,100000000,1000000000],"tickSize":-18,"labels":false,"title":null}},
"y":{"field":"v","type":"quantitative","axis":{"orient":"right","values":[1e-13,1e-12,1e-11,1e-10,1e-9,1e-8],"tickSize":-19,"labels":false,"title":null}},
"fill":{"field":"k","type":"nominal","scale":{"domain":["Semi-Expt Xsec","FLUKA direct"],"range":["black","transparent"]},"legend":{"orient":"none","legendX":36,"legendY":372,"symbolType":"circle","symbolSize":270,"symbolStrokeWidth":2,"symbolStrokeColor":"black","labelOffset":4,"rowPadding":9}}}},
{"transform":[{"filter":"datum.k === 'FLUKA direct'"}],
"mark":{"type":"point","shape":"circle","filled":true,"clip":true,"opacity":1,"stroke":"black","strokeWidth":1.5,"size":75},
"encoding":{
"x":{"field":"t","type":"quantitative","axis":{"orient":"top","values":[5,50,500,5000,50000,500000,5000000,50000000,500000000],"tickSize":-8,"labels":false,"domain":false,"title":null}},
"y":{"field":"v","type":"quantitative","axis":{"orient":"right","values":[6e-14,7e-14,8e-14,9e-14,2e-13,3e-13,4e-13,5e-13,6e-13,7e-13,8e-13,9e-13,2e-12,3e-12,4e-12,5e-12,6e-12,7e-12,8e-12,9e-12,2e-11,3e-11,4e-11,5e-11,6e-11,7e-11,8e-11,9e-11,2e-10,3e-10,4e-10,5e-10,6e-10,7e-10,8e-10,9e-10,2e-9,3e-9,4e-9,5e-9,6e-9,7e-9,8e-9,9e-9,2e-8,3e-8,4e-8],"tickSize":-10,"labels":false,"domain":false,"title":null}},
"fill":{"field":"k","type":"nominal"}}},
{"transform":[{"filter":"datum.t === 1 && datum.s === 'Spectrum 2' && datum.k === 'Semi-Expt Xsec'"}],
"mark":{"type":"text","align":"left","baseline":"alphabetic","fontSize":33,"font":"Liberation Serif","color":"black"},
"encoding":{
"x":{"datum":7.6,"type":"quantitative","axis":{"orient":"bottom","values":[10000,10000000,1000000000],"ticks":false,"domain":false,"labelExpr":"datum.value==10000?'4':(datum.value==10000000?'7':'9')","labelFontSize":20,"labelAlign":"left","labelBaseline":"alphabetic","labelPadding":25,"labelOffset":14,"title":null}},
"y":{"datum":1.02e-10,"type":"quantitative","axis":null},
"text":{"field":"m"}}}
],
"resolve":{"axis":{"x":"independent","y":"independent"}}}
]
}
